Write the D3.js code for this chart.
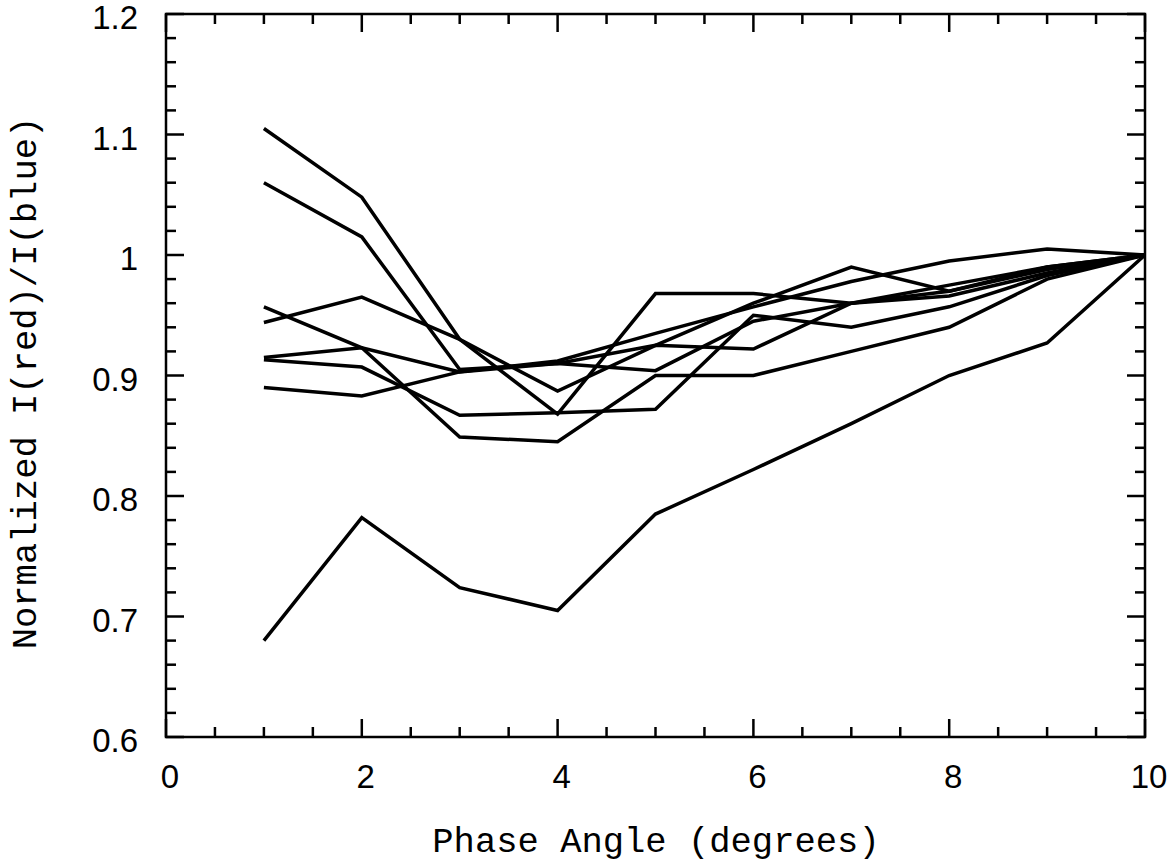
<!DOCTYPE html>
<html>
<head>
<meta charset="utf-8">
<script src="https://cdn.jsdelivr.net/npm/d3@7"></script>
<style>
    body { margin: 0; background: #fff; }
    .tickLabel { font-family: "Liberation Sans", Arial, sans-serif; font-size: 33px; fill: #000; }
    .axisTitle { font-family: "Liberation Mono", "Courier New", monospace; font-size: 35.5px; fill: #000; }
</style>
</head>
<body>
<script>
var phase = [1, 2, 3, 4, 5, 6, 7, 8, 9, 10];

var series1 = [1.105, 1.048, 0.930, 0.868, 0.968, 0.968, 0.960, 0.966, 0.985, 1.0];
var series2 = [1.060, 1.015, 0.905, 0.910, 0.925, 0.922, 0.960, 0.975, 0.990, 1.0];
var series3 = [0.957, 0.923, 0.849, 0.845, 0.900, 0.900, 0.920, 0.940, 0.980, 1.0];
var series4 = [0.944, 0.965, 0.930, 0.887, 0.925, 0.960, 0.990, 0.970, 0.990, 1.0];
var series5 = [0.915, 0.923, 0.903, 0.910, 0.904, 0.945, 0.960, 0.970, 0.988, 1.0];
var series6 = [0.913, 0.907, 0.867, 0.869, 0.872, 0.950, 0.940, 0.957, 0.983, 1.0];
var series7 = [0.890, 0.883, 0.903, 0.912, 0.935, 0.957, 0.978, 0.995, 1.005, 1.0];
var series8 = [0.680, 0.782, 0.724, 0.705, 0.785, 0.822, 0.860, 0.900, 0.927, 1.0];

var xTickLabels = [0, 2, 4, 6, 8, 10];
var yTickLabels = [0.6, 0.7, 0.8, 0.9, 1, 1.1, 1.2];

window.onload = function(){
    var w = 1175, h = 863;
    var left = 166, right = 1145, top = 14, bottom = 737;

    var svg = d3.select("body")
        .append("svg")
        .attr("width", w)
        .attr("height", h);

    var x = d3.scaleLinear()
        .range([left, right])
        .domain([0, 10]);

    var y = d3.scaleLinear()
        .range([bottom, top])
        .domain([0.6, 1.2]);

    var allSeries = [series1, series2, series3, series4, series5, series6, series7, series8];

    var line = d3.line()
        .x(function(d, i){ return x(phase[i]); })
        .y(function(d){ return y(d); });

    svg.selectAll(".curve")
        .data(allSeries)
        .enter()
        .append("path")
        .attr("class", "curve")
        .attr("d", line)
        .style("fill", "none")
        .style("stroke", "#000")
        .style("stroke-width", 3.5)
        .style("stroke-linejoin", "miter");

    // ticks: minor every 0.5 on x, 0.02 on y; all four sides, pointing in
    var xMinor = d3.range(0, 10.001, 0.5);
    var yMinor = d3.range(0.6, 1.2001, 0.02);
    var isMajorX = function(v){ return Math.abs(v / 2 - Math.round(v / 2)) < 1e-6; };
    var isMajorY = function(v){ return Math.abs(v * 10 - Math.round(v * 10)) < 1e-6; };

    var ticks = svg.append("g")
        .style("stroke", "#000")
        .style("stroke-width", 2.5);

    ticks.selectAll(".xb")
        .data(xMinor)
        .enter()
        .append("line")
        .attr("x1", function(d){ return x(d); })
        .attr("x2", function(d){ return x(d); })
        .attr("y1", bottom)
        .attr("y2", function(d){ return bottom - (isMajorX(d) ? 18 : 10); });

    ticks.selectAll(".xt")
        .data(xMinor)
        .enter()
        .append("line")
        .attr("x1", function(d){ return x(d); })
        .attr("x2", function(d){ return x(d); })
        .attr("y1", top)
        .attr("y2", function(d){ return top + (isMajorX(d) ? 18 : 10); });

    ticks.selectAll(".yl")
        .data(yMinor)
        .enter()
        .append("line")
        .attr("y1", function(d){ return y(d); })
        .attr("y2", function(d){ return y(d); })
        .attr("x1", left)
        .attr("x2", function(d){ return left + (isMajorY(d) ? 18 : 10); });

    ticks.selectAll(".yr")
        .data(yMinor)
        .enter()
        .append("line")
        .attr("y1", function(d){ return y(d); })
        .attr("y2", function(d){ return y(d); })
        .attr("x1", right)
        .attr("x2", function(d){ return right - (isMajorY(d) ? 18 : 10); });

    svg.append("rect")
        .attr("x", left)
        .attr("y", top)
        .attr("width", right - left)
        .attr("height", bottom - top)
        .style("fill", "none")
        .style("stroke", "#000")
        .style("stroke-width", 2.5);

    svg.selectAll(".xLabel")
        .data(xTickLabels)
        .enter()
        .append("text")
        .attr("class", "tickLabel")
        .attr("text-anchor", "middle")
        .attr("x", function(d){ return x(d) + 4; })
        .attr("y", 788)
        .text(function(d){ return d; });

    svg.selectAll(".yLabel")
        .data(yTickLabels)
        .enter()
        .append("text")
        .attr("class", "tickLabel")
        .attr("text-anchor", "end")
        .attr("x", 138)
        .attr("y", function(d){ return y(d) + 15; })
        .text(function(d){ return d; });

    svg.append("text")
        .attr("class", "axisTitle")
        .attr("text-anchor", "middle")
        .attr("x", 656)
        .attr("y", 852)
        .text("Phase Angle (degrees)");

    svg.append("text")
        .attr("class", "axisTitle")
        .attr("text-anchor", "middle")
        .attr("transform", "translate(36, 383) rotate(-90)")
        .text("Normalized I(red)/I(blue)");
};
</script>
</body>
</html>
